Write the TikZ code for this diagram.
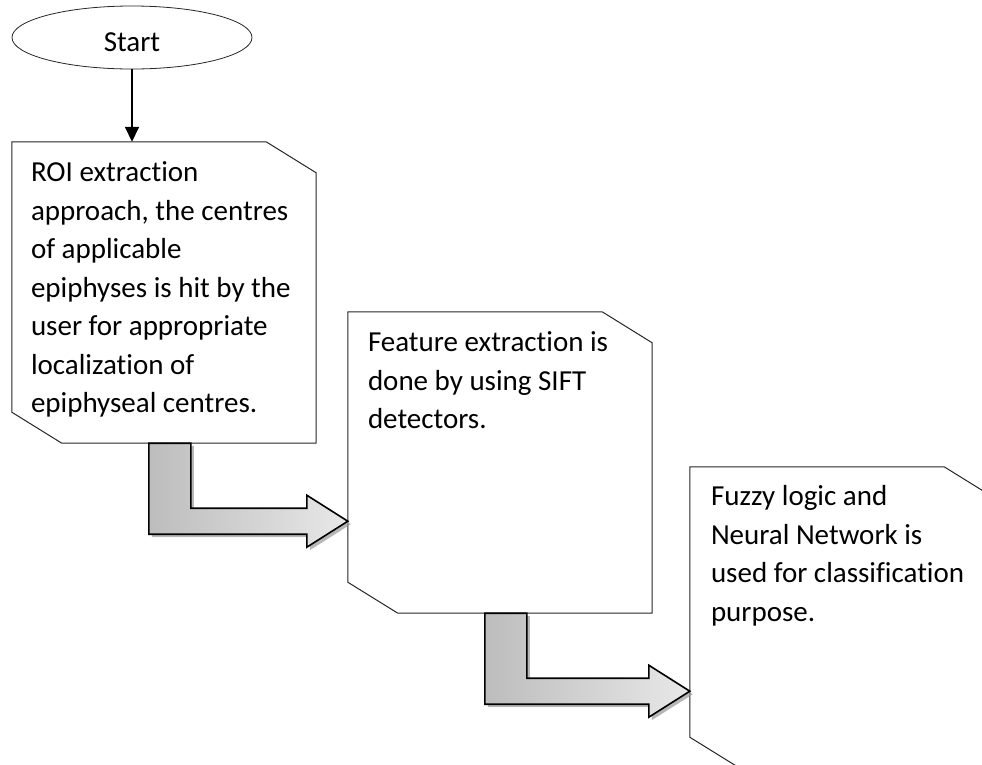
\documentclass[tikz,border=0pt]{standalone}
\usepackage{fontspec}
\setmainfont{Carlito}[RawFeature={-liga}]
\usetikzlibrary{shapes.geometric,arrows.meta,calc}

% outline of a step box with its top-right and bottom-left corners cut off
\newcommand\cutbox[1]{%
  \draw[boxline] (#1.north west) -- ([xshift=-50pt]#1.north east)
    -- ([yshift=-31pt]#1.north east) -- (#1.south east)
    -- ([xshift=50pt]#1.south west) -- ([yshift=31pt]#1.south west) -- cycle;}

% bent block arrow that leaves the bottom of box #1 and points at the left side of box #2
\newcommand\bentpath[3]{%
  let \p1=(#1.south west), \p2=(#2.west) in
  ([shift={#3}]\x1+137pt,\y1) -- ([shift={#3}]\x1+179pt,\y1)
  -- ([shift={#3}]\x1+179pt,\y1-65pt) -- ([shift={#3}]\x2-41pt,\y1-65pt)
  -- ([shift={#3}]\x2-41pt,\y1-52pt) -- ([shift={#3}]\x2,\y1-78pt)
  -- ([shift={#3}]\x2-41pt,\y1-104pt) -- ([shift={#3}]\x2-41pt,\y1-91pt)
  -- ([shift={#3}]\x1+137pt,\y1-91pt) -- cycle}
\newcommand\bentarrow[2]{%
  \fill[black!40,opacity=0.7] \bentpath{#1}{#2}{(3pt,-3pt)};
  \draw[blockarrow] \bentpath{#1}{#2}{(0pt,0pt)};}

\begin{document}
\begin{tikzpicture}[x=1pt,y=-1pt,
  font=\fontsize{29}{38.5}\selectfont,
  boxline/.style={draw=black!85,line width=1pt,line join=miter},
  stepbox/.style={draw=none,minimum width=304pt,minimum height=301pt,inner sep=0pt},
  steptext/.style={anchor=base west,inner sep=0pt},
  blockarrow/.style={draw=black,line width=1.6pt,line join=miter,
    left color=black!26,right color=black!9},
  startnode/.style={ellipse,draw=black!85,line width=0.8pt,
    minimum width=240pt,minimum height=63pt,inner sep=0pt},
  thinarrow/.style={line width=1.6pt,-{Triangle[length=15pt,width=14pt]}}]

  \clip (0,0) rectangle (982,764);
  \fill[white] (0,0) rectangle (982,764);

  % start terminal
  \node[startnode] (start) at (132,37.5) {\raisebox{-5pt}[\height][0pt]{Start}};

  % step boxes
  \node[stepbox] (b1) at (164,292.5) {};
  \node[stepbox] (b2) at (500,462.5) {};
  \node[stepbox] (b3) at (842,617.5) {};
  \cutbox{b1}
  \cutbox{b2}
  \cutbox{b3}

  % box texts
  \node[steptext] (t1) at ([shift={(19pt,-40pt)}]b1.north west)
    {\parbox[t]{285pt}{\raggedright ROI extraction\\approach, the centres\\of applicable\\epiphyses is hit by the\\user for appropriate\\localization of\\epiphyseal centres.}};
  \node[steptext] (t2) at ([shift={(20pt,-40pt)}]b2.north west)
    {\parbox[t]{285pt}{\raggedright Feature extraction is\\done by using SIFT\\detectors.}};
  \node[steptext] (t3) at ([shift={(21pt,-39pt)}]b3.north west)
    {\parbox[t]{285pt}{\raggedright Fuzzy logic and\\Neural Network is\\used for classification\\purpose.}};

  % connectors
  \draw[thinarrow] (start.south) -- (start.south |- b1.north);
  \bentarrow{b1}{b2}
  \bentarrow{b2}{b3}
\end{tikzpicture}
\end{document}
